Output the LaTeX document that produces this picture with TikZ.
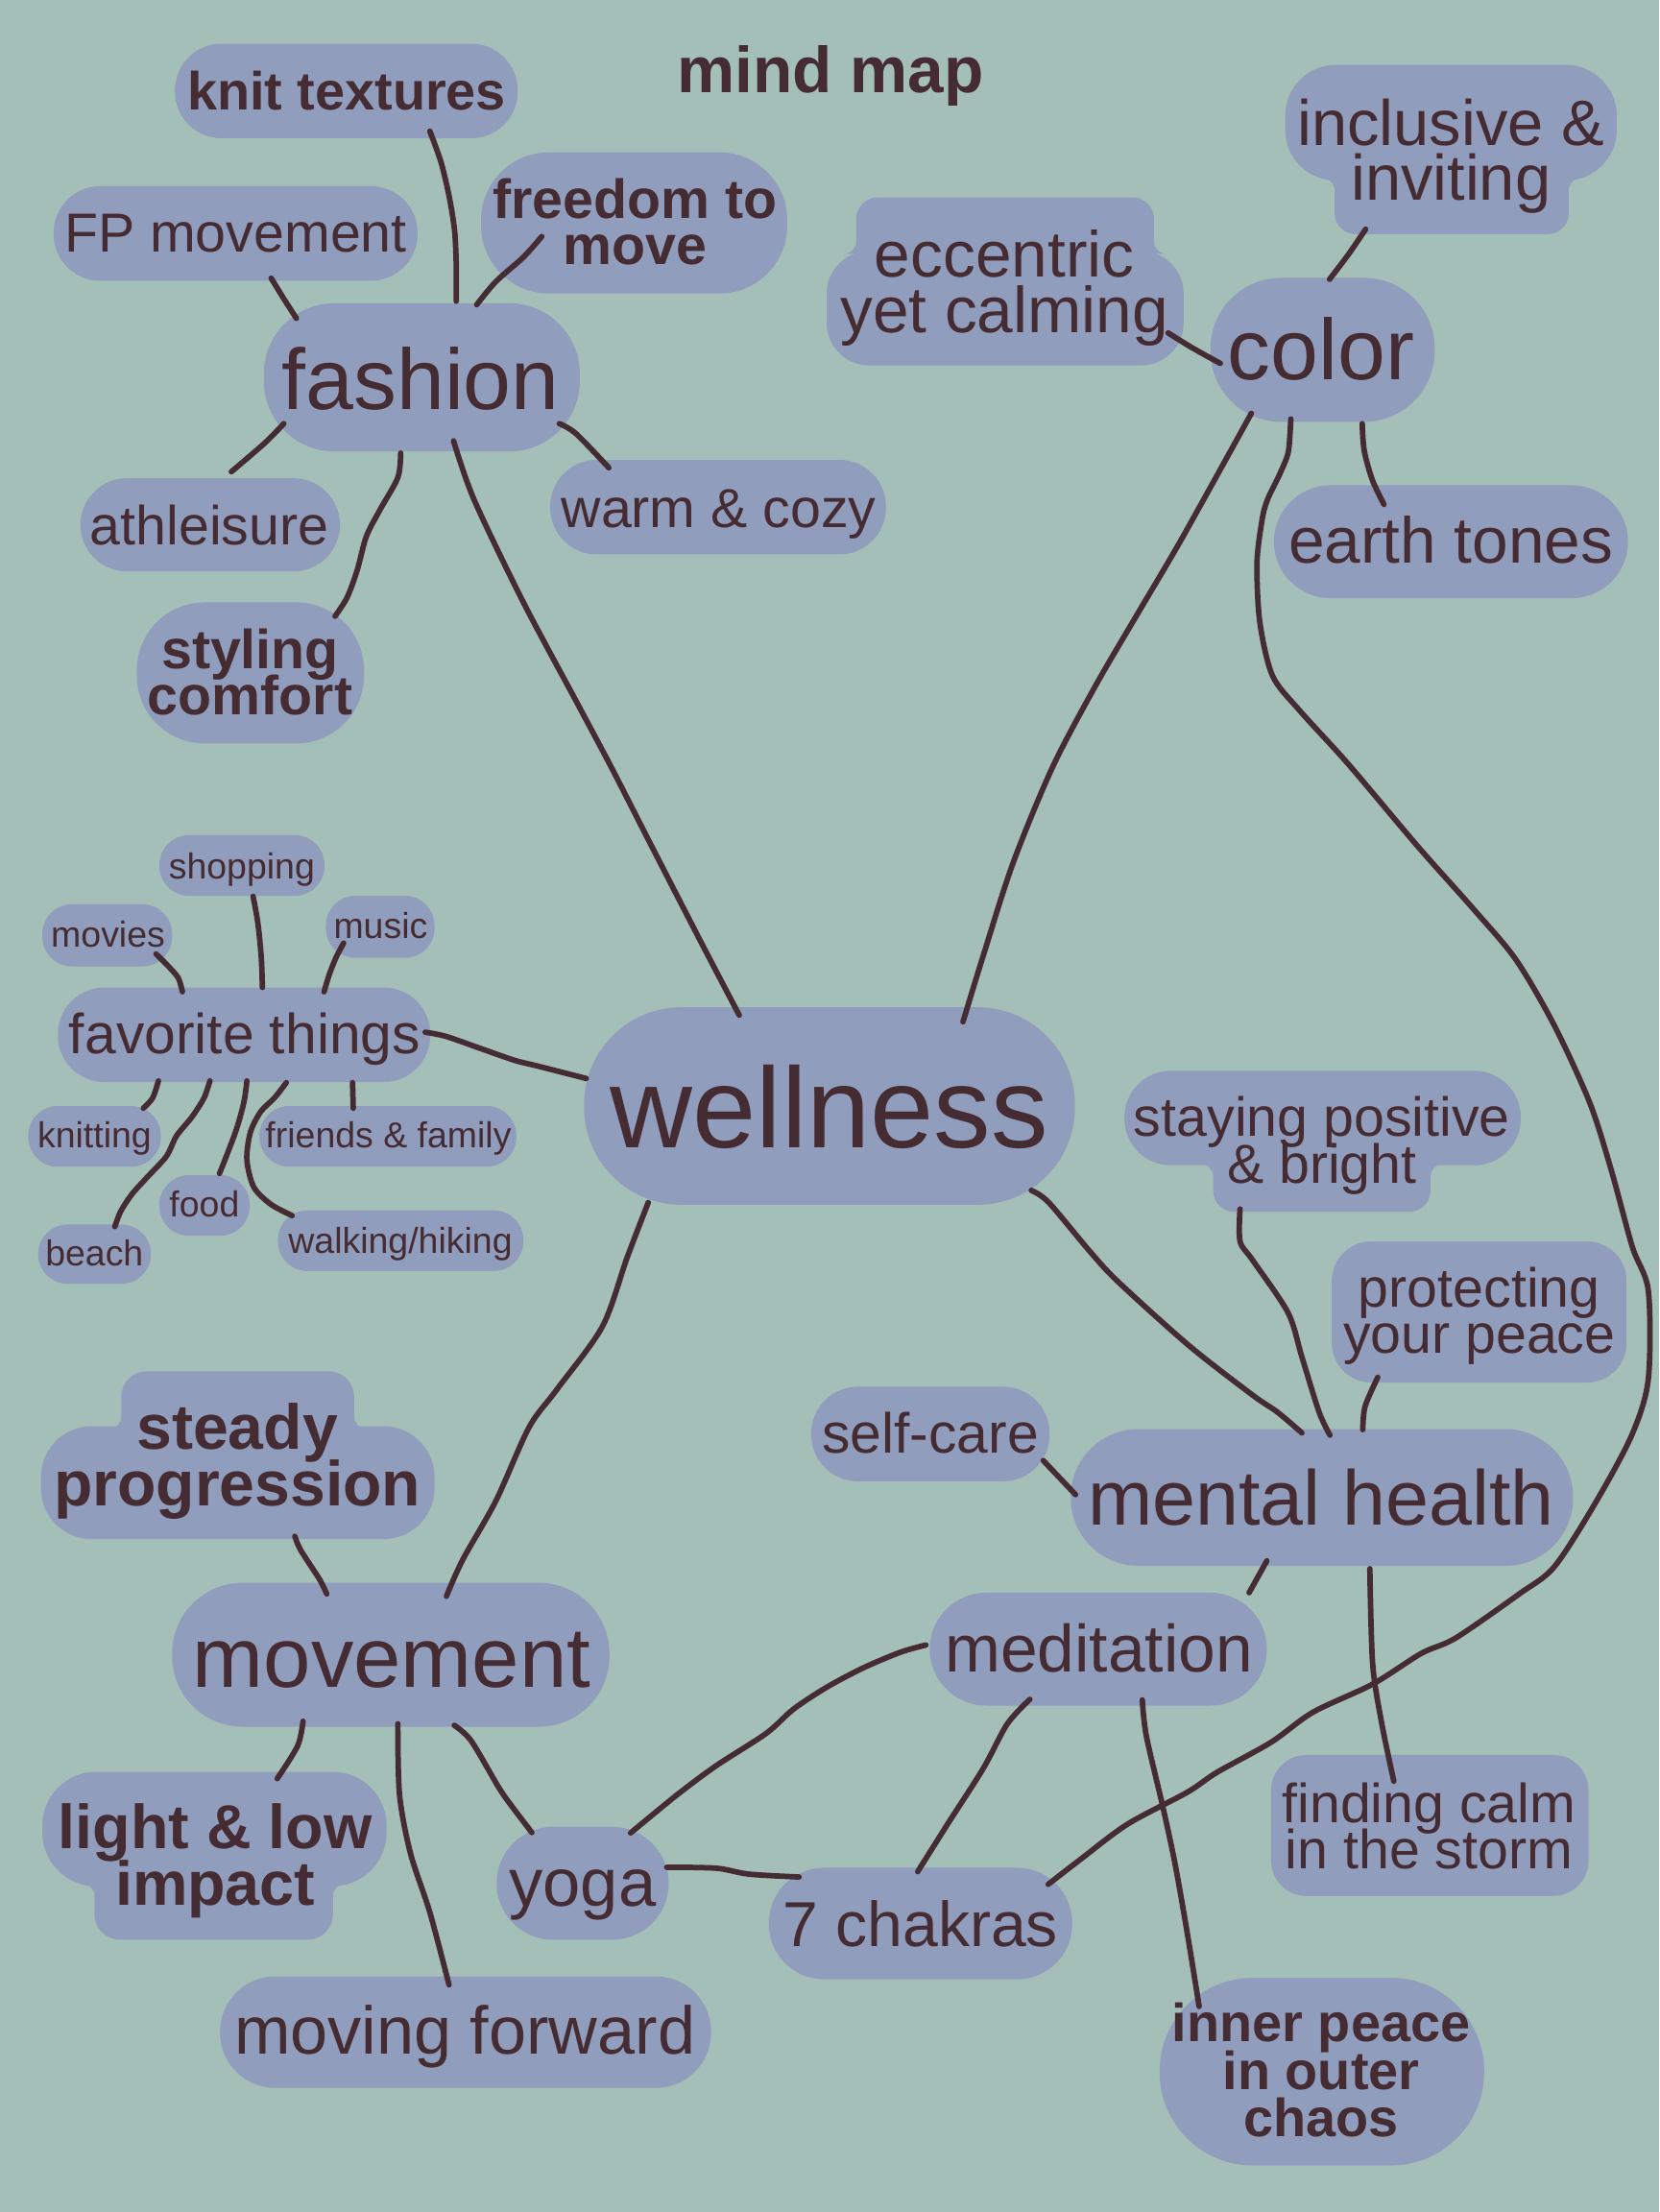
\documentclass[tikz,border=0pt]{standalone}
\usepackage{fontspec}
\setmainfont{Liberation Sans}
\definecolor{bg}{HTML}{A4BFB8}
\definecolor{nodefill}{HTML}{919DBD}
\definecolor{ink}{HTML}{452B32}
\newcommand\fsz[1]{\fontsize{#1pt}{#1pt}\selectfont}
\newcommand\mlines[2]{\vtop{\baselineskip=#1\lineskiplimit=-100pt\lineskip=0pt\halign{\hfil##\hfil\cr#2\crcr}}}
\newcommand\pill[6]{\node[pillshape, rounded corners=#6pt, minimum width={(#4-#2)*1pt}, minimum height={(#5-#3)*1pt}] (#1) at ({(#2+#4)/2},{(#3+#5)/2}) {};}
\newcommand\myfillet[5]{\fill[nodefill] (#1,#2) -- ({#1+#3*#5},#2) .. controls ({#1+#3*#5-#3*0.552*#5},#2) and (#1,{#2+#4*#5-#4*0.552*#5}) .. (#1,{#2+#4*#5}) -- cycle;}
\tikzset{
  pillshape/.style={rectangle, fill=nodefill, inner sep=0pt, outer sep=0pt},
  txt/.style={anchor=base, inner sep=0pt, text=ink},
  conn/.style={draw=ink, line width=3.9pt, line cap=round, line join=round},
}
\begin{document}
\begin{tikzpicture}[x=1pt,y=-1pt]
\fill[bg] (0,0) rectangle (1176,1568);
\useasboundingbox (0,0) rectangle (1176,1568);

% ---------- shapes ----------
\pill{knit}{124}{31}{367}{98}{33}
\pill{fp}{38}{132}{296}{199}{33}
\pill{freedom}{341}{108}{558}{208}{48}
\pill{fashion}{187}{215}{411}{320}{50}
\pill{athleisure}{57}{339}{241}{405}{33}
\pill{warm}{390}{326}{628}{393}{33}
\pill{styling}{97}{427}{258}{527}{48}
% eccentric blob
\pill{eccentricA}{607}{140}{818}{200}{15}
\pill{eccentric}{586}{178}{839}{259}{30}
\myfillet{607}{180}{-1}{-1}{9}
\myfillet{818}{180}{1}{-1}{9}
% inclusive blob
\pill{inclusive}{911}{46}{1146}{128}{36}
\pill{inclusiveB}{946}{100}{1112}{166}{15}
\myfillet{946}{126}{-1}{1}{9}
\myfillet{1112}{126}{1}{1}{9}
\pill{color}{858}{197}{1017}{299}{50}
\pill{earth}{903}{344}{1154}{424}{40}
\pill{wellness}{414}{714}{762}{854}{69}
\pill{fav}{41}{700}{305}{767}{33}
\pill{shopping}{113}{592}{230}{635}{21}
\pill{movies}{30}{641}{122}{685}{21}
\pill{music}{231}{635}{308}{679}{21}
\pill{knitting}{20}{784}{114}{827}{21}
\pill{friends}{184}{784}{366}{827}{21}
\pill{food}{113}{833}{177}{876}{21}
\pill{beach}{27}{868}{107}{910}{21}
\pill{walking}{197}{858}{371}{901}{21}
% staying positive blob
\pill{staying}{797}{759}{1078}{826}{33}
\pill{stayingB}{860}{800}{1014}{859}{15}
\myfillet{860}{825}{-1}{1}{9}
\myfillet{1014}{825}{1}{1}{9}
\pill{protecting}{944}{880}{1153}{980}{28}
\pill{selfcare}{575}{983}{744}{1050}{33}
\pill{mental}{759}{1013}{1115}{1110}{48}
\pill{meditation}{659}{1129}{898}{1209}{40}
\pill{finding}{901}{1244}{1126}{1344}{25}
\pill{chakras}{545}{1324}{760}{1403}{39}
\pill{inner}{822}{1402}{1052}{1535}{66}
% steady blob
\pill{steadyA}{86}{972}{251}{1040}{18}
\pill{steady}{29}{1011}{308}{1091}{36}
\myfillet{86}{1013}{-1}{-1}{9}
\myfillet{251}{1013}{1}{-1}{9}
\pill{movement}{122}{1122}{432}{1224}{50}
% light blob
\pill{light}{30}{1256}{274}{1337}{38}
\pill{lightB}{67}{1300}{236}{1375}{18}
\myfillet{67}{1335}{-1}{1}{9}
\myfillet{236}{1335}{1}{1}{9}
\pill{yoga}{352}{1295}{474}{1375}{40}
\pill{forward}{156}{1401}{504}{1480}{39}

% ---------- connectors ----------
\draw[conn] plot[smooth] coordinates {(304.7,93) (312.5,114.6) (318.3,138.9) (322.2,163.2) (323.4,187.5) (323.4,213.5)};
\draw[conn] plot[smooth] coordinates {(384,167.7) (371,182.3) (351.5,199.6) (337.9,216)};
\draw[conn] plot[smooth] coordinates {(192.2,197.2) (201.2,211.8) (210.1,225.7)};
\draw[conn] plot[smooth] coordinates {(201.2,300.3) (187.5,314.2) (164,334.4)};
\draw[conn] plot[smooth] coordinates {(284,321.2) (282,338.5) (269.5,361.1) (259.7,380.2) (253.1,404.5) (246,423.6) (237.5,436.8)};
\draw[conn] plot[smooth] coordinates {(396.5,300.3) (408.2,307.3) (431.6,331.6)};
\draw[conn] plot[smooth] coordinates {(321.5,312.5) (336,354.1) (371,427) (410,500) (433.6,544.4) (462,600) (497,668) (524,719.6)};
\draw[conn] plot[smooth] coordinates {(682.6,724.3) (696,680.5) (718,612) (746,544) (776.6,486) (807,434) (837.6,382) (887,293)};
\draw[conn] plot[smooth] coordinates {(828,236) (845,246.5) (865,257.6)};
\draw[conn] plot[smooth] coordinates {(942.4,198) (955.7,180.5) (968,162.5)};
\draw[conn] plot[smooth] coordinates {(965.6,300.3) (967,319.4) (972.8,340.3) (981,357.6)};
\draw[conn] plot[smooth] coordinates {(915,297) (913.8,316) (912,324.6) (906,338.5) (898.5,354) (894.7,368) (891,399) (893,441) (902,479) (921,503.4) (955.7,541.6) (1005,600) (1045,645) (1074.7,680.5) (1102,727.4) (1127,782) (1142,829) (1157,883.7) (1168.4,915) (1168.4,977.4) (1157,1016.5) (1132,1063.4) (1102,1110.3) (1077,1129.8) (1032,1161) (1007.5,1172) (973,1193.8) (930.7,1213.7) (901,1235) (862.7,1256.3) (841.5,1270.5) (799,1293.2) (765,1318.7) (743,1335.7)};
\draw[conn] plot[smooth] coordinates {(459.5,852.4) (444.5,891.5) (427,940.3) (394.7,985) (375,1011.8) (351.5,1063.9) (328,1105.6) (316.4,1131.6)};
\draw[conn] plot[smooth] coordinates {(731,843.8) (743.4,852.4) (773,887.6) (793,909) (843,954) (888,989) (905.4,1000.9) (922.8,1015.7)};
\draw[conn] plot[smooth] coordinates {(879,857) (879,880) (888,893.4) (913,930.5) (922.8,961.8) (935,1000.9) (942.7,1017.3)};
\draw[conn] plot[smooth] coordinates {(976.6,976.3) (967.6,997) (966,1013.4)};
\draw[conn] plot[smooth] coordinates {(739.5,1035.3) (762.4,1059.5)};
\draw[conn] plot[smooth] coordinates {(898,1106.4) (885.4,1129)};
\draw[conn] plot[smooth] coordinates {(971,1112) (973,1179.6) (979.5,1222) (988,1262.6)};
\draw[conn] plot[smooth] coordinates {(656.3,1166.1) (638.8,1171) (612.5,1182) (586,1196) (562.5,1211.5) (543,1228.8) (508,1251.4) (480,1272.2) (447,1299.3)};
\draw[conn] plot[smooth] coordinates {(730,1204.6) (714,1222) (697,1253.5) (671.7,1293) (650.5,1326.7)};
\draw[conn] plot[smooth] coordinates {(809.7,1205) (812.6,1230.7) (824.5,1281.8) (833,1321.6) (841.5,1369.8) (850,1422.3)};
\draw[conn] plot[smooth] coordinates {(472.6,1323.6) (507.8,1324.3) (531,1328.5) (566.4,1330.5)};
\draw[conn] plot[smooth] coordinates {(209,1089) (213,1098.6) (226.5,1119.5) (231.6,1129.9)};
\draw[conn] plot[smooth] coordinates {(214.8,1220.1) (211,1237.5) (196.5,1260.8)};
\draw[conn] plot[smooth] coordinates {(282,1221.9) (283.2,1272.2) (291,1313.9) (304.7,1355.6) (318.3,1407)};
\draw[conn] plot[smooth] coordinates {(322,1223) (334,1234) (353.5,1267) (363.3,1281) (377,1299)};
\draw[conn] plot[smooth] coordinates {(301.4,731.7) (316,734.6) (340.3,743.1) (364.7,751.6) (381.2,755.7) (415.6,764.5)};
\draw[conn] plot[smooth] coordinates {(110.6,676.2) (119.1,684.7) (126.4,693.3) (129.3,703)};
\draw[conn] plot[smooth] coordinates {(179.4,635.4) (182.8,654.4) (185.2,678.7) (186,700)};
\draw[conn] plot[smooth] coordinates {(243.6,668.5) (238.2,678.7) (233.4,690.8) (229.7,703)};
\draw[conn] plot[smooth] coordinates {(112.3,766.2) (108.2,778.3) (101.6,785.6)};
\draw[conn] plot[smooth] coordinates {(148.8,766.2) (144.6,778.3) (136.1,791.7) (125.2,805.1) (117.9,819.7) (104.5,834.3) (93.6,846.4) (85.6,858.6) (81.4,869.5)};
\draw[conn] plot[smooth] coordinates {(175,766.2) (173,780.8) (167.7,800.2) (160.4,819.7) (155.6,831.8)};
\draw[conn] plot[smooth] coordinates {(203,767.4) (194.5,778.3) (184.8,788) (177.5,802.6) (175,822.1) (179.9,841.5) (192,853.7) (207.1,861.7)};
\draw[conn] plot[smooth] coordinates {(249.9,767.4) (250.4,785.6)};

% ---------- texts ----------
\node[txt, font={\fsz{46}\bfseries}] (title) at (588.5,66) {mind map};
\node[txt, font={\fsz{38}\bfseries}] (t-knit) at (245.7,78) {knit textures};
\node[txt, font=\fsz{39}] (t-fp) at (167,178.8) {FP movement};
\node[txt, font={\fsz{39}\bfseries}] (t-freedom) at (450.2,154.5) {\mlines{33pt}{freedom to\cr move}};
\node[txt, font=\fsz{61}] (t-fashion) at (298.2,290) {fashion};
\node[txt, font=\fsz{39}] (t-athleisure) at (148.4,386.4) {athleisure};
\node[txt, font=\fsz{39}] (t-warm) at (509.5,374) {warm \& cozy};
\node[txt, font={\fsz{39}\bfseries}] (t-styling) at (177.3,474) {\mlines{33pt}{styling\cr comfort}};
\node[txt, font=\fsz{46}] (t-eccentric) at (712,196) {\mlines{40pt}{eccentric\cr yet calming}};
\node[txt, font=\fsz{45.5}] (t-inclusive) at (1028.5,103) {\mlines{39pt}{inclusive \&\cr inviting}};
\node[txt, font=\fsz{61}] (t-color) at (936.5,269) {color};
\node[txt, font=\fsz{46}] (t-earth) at (1028.5,399) {earth tones};
\node[txt, font=\fsz{81}] (t-wellness) at (587.8,813.3) {wellness};
\node[txt, font=\fsz{40}] (t-fav) at (173.5,747.2) {favorite things};
\node[txt, font=\fsz{25.5}] (t-shopping) at (171.4,622.8) {shopping};
\node[txt, font=\fsz{25.5}] (t-movies) at (76.6,671.4) {movies};
\node[txt, font=\fsz{25.5}] (t-music) at (269.8,665.3) {music};
\node[txt, font=\fsz{25.5}] (t-knitting) at (67,813.6) {knitting};
\node[txt, font=\fsz{25.5}] (t-friends) at (275.3,813.6) {friends \& family};
\node[txt, font=\fsz{25.5}] (t-food) at (144.9,862.9) {food};
\node[txt, font=\fsz{25.5}] (t-beach) at (66.9,897.4) {beach};
\node[txt, font=\fsz{25.5}] (t-walking) at (283.8,888.2) {walking/hiking};
\node[txt, font=\fsz{39}] (t-staying) at (937,805.5) {\mlines{33pt}{staying positive\cr \& bright}};
\node[txt, font=\fsz{39}] (t-protecting) at (1048.6,926.6) {\mlines{32.5pt}{protecting\cr your peace}};
\node[txt, font=\fsz{40}] (t-selfcare) at (659.5,1030) {self-care};
\node[txt, font=\fsz{55}] (t-mental) at (936.4,1081) {mental health};
\node[txt, font=\fsz{47.3}] (t-meditation) at (779,1185.3) {meditation};
\node[txt, font=\fsz{39}] (t-finding) at (1013,1291.8) {\mlines{33pt}{finding calm\cr in the storm}};
\node[txt, font=\fsz{45}] (t-chakras) at (652.5,1379.7) {7 chakras};
\node[txt, font={\fsz{38}\bfseries}] (t-inner) at (936.5,1447.3) {\mlines{33.6pt}{inner peace\cr in outer\cr chaos}};
\node[txt, font={\fsz{45}\bfseries}] (t-steady) at (168.2,1027.4) {\mlines{40pt}{steady\cr progression}};
\node[txt, font=\fsz{60.4}] (t-movement) at (277.7,1195.8) {movement};
\node[txt, font={\fsz{44}\bfseries}] (t-light) at (152.6,1310.4) {\mlines{40pt}{light \& low\cr impact}};
\node[txt, font=\fsz{48}] (t-yoga) at (413,1351.4) {yoga};
\node[txt, font=\fsz{47.8}] (t-forward) at (329.5,1456.3) {moving forward};
\end{tikzpicture}
\end{document}
